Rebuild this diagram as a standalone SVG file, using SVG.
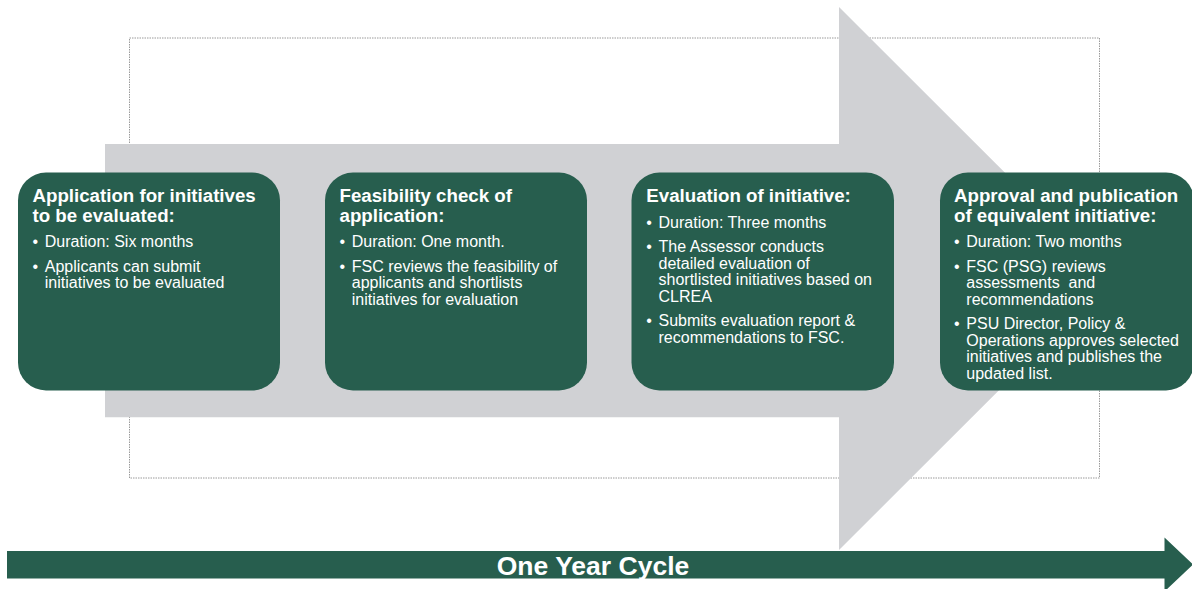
<svg xmlns="http://www.w3.org/2000/svg" width="1192" height="589" viewBox="0 0 1192 589">
<style>
  text { font-family: "Liberation Sans", Arial, sans-serif; fill: #ffffff; }
  .title { font-size: 18.7px; font-weight: bold; }
  .body { font-size: 16px; }
  .box { fill: #275E4E; }
  .pre { white-space: pre; }
</style>
<rect width="1192" height="589" fill="#ffffff"/>
<g id="background">
  <rect x="129.5" y="38" width="970" height="440" fill="none" stroke="#9a9a9a" stroke-width="1" stroke-dasharray="1.5 1"/>
  <polygon points="105,144 839,144 839,7 1111,278.5 839,550 839,417.3 105,417.3" fill="#D0D1D4"/>
</g>
<g id="connectors">
  <polygon id="timeline" points="7,551 1164.5,551 1164.5,537.5 1193,564.5 1164.5,591.5 1164.5,578.5 7,578.5" fill="#275E4E"/>
  <text x="593" y="574.5" text-anchor="middle" style="font-size:26.5px;font-weight:bold">One Year Cycle</text>
</g>
<g id="node-application">
  <rect class="box" x="18" y="172.5" width="262" height="218" rx="28" ry="28"/>
  <text class="title"><tspan x="32.5" y="201.5">Application for initiatives</tspan><tspan x="32.5" y="221.5">to be evaluated:</tspan></text>
  <text class="body"><tspan x="32.5" y="247.3">•</tspan><tspan x="44.8" y="247.3">Duration: Six months</tspan></text>
  <text class="body"><tspan x="32.5" y="271.7">•</tspan><tspan x="44.8" y="271.7">Applicants can submit</tspan><tspan x="44.8" y="288.2">initiatives to be evaluated</tspan></text>
</g>
<g id="node-feasibility">
  <rect class="box" x="325" y="172.5" width="262" height="218" rx="28" ry="28"/>
  <text class="title"><tspan x="339.5" y="201.5">Feasibility check of</tspan><tspan x="339.5" y="221.5">application:</tspan></text>
  <text class="body"><tspan x="339.5" y="247.3">•</tspan><tspan x="351.8" y="247.3">Duration: One month.</tspan></text>
  <text class="body"><tspan x="339.5" y="271.7">•</tspan><tspan x="351.8" y="271.7">FSC reviews the feasibility of</tspan><tspan x="351.8" y="288.2">applicants and shortlists</tspan><tspan x="351.8" y="304.7">initiatives for evaluation</tspan></text>
</g>
<g id="node-evaluation">
  <rect class="box" x="631.5" y="172.5" width="262.5" height="218" rx="28" ry="28"/>
  <text class="title"><tspan x="646.3" y="201.5">Evaluation of initiative:</tspan></text>
  <text class="body"><tspan x="646.3" y="227.7">•</tspan><tspan x="658.5" y="227.7">Duration: Three months</tspan></text>
  <text class="body"><tspan x="646.3" y="252.3">•</tspan><tspan x="658.5" y="252.3">The Assessor conducts</tspan><tspan x="658.5" y="268.8">detailed evaluation of</tspan><tspan x="658.5" y="285.3">shortlisted initiatives based on</tspan><tspan x="658.5" y="301.8">CLREA</tspan></text>
  <text class="body"><tspan x="646.3" y="326.4">•</tspan><tspan x="658.5" y="326.4">Submits evaluation report &amp;</tspan><tspan x="658.5" y="342.9">recommendations to FSC.</tspan></text>
</g>
<g id="node-approval">
  <rect class="box" x="940" y="172.5" width="254" height="218" rx="28" ry="28"/>
  <text class="title"><tspan x="954" y="201.5">Approval and publication</tspan><tspan x="954" y="221.5">of equivalent initiative:</tspan></text>
  <text class="body"><tspan x="954" y="247.3">•</tspan><tspan x="966.3" y="247.3">Duration: Two months</tspan></text>
  <text class="body"><tspan x="954" y="271.7">•</tspan><tspan x="966.3" y="271.7">FSC (PSG) reviews</tspan><tspan class="pre" x="966.3" y="288.2">assessments  and</tspan><tspan x="966.3" y="304.7">recommendations</tspan></text>
  <text class="body"><tspan x="954" y="329.3">•</tspan><tspan x="966.3" y="329.3">PSU Director, Policy &amp;</tspan><tspan x="966.3" y="345.8">Operations approves selected</tspan><tspan x="966.3" y="362.3">initiatives and publishes the</tspan><tspan x="966.3" y="378.8">updated list.</tspan></text>
</g>
</svg>
